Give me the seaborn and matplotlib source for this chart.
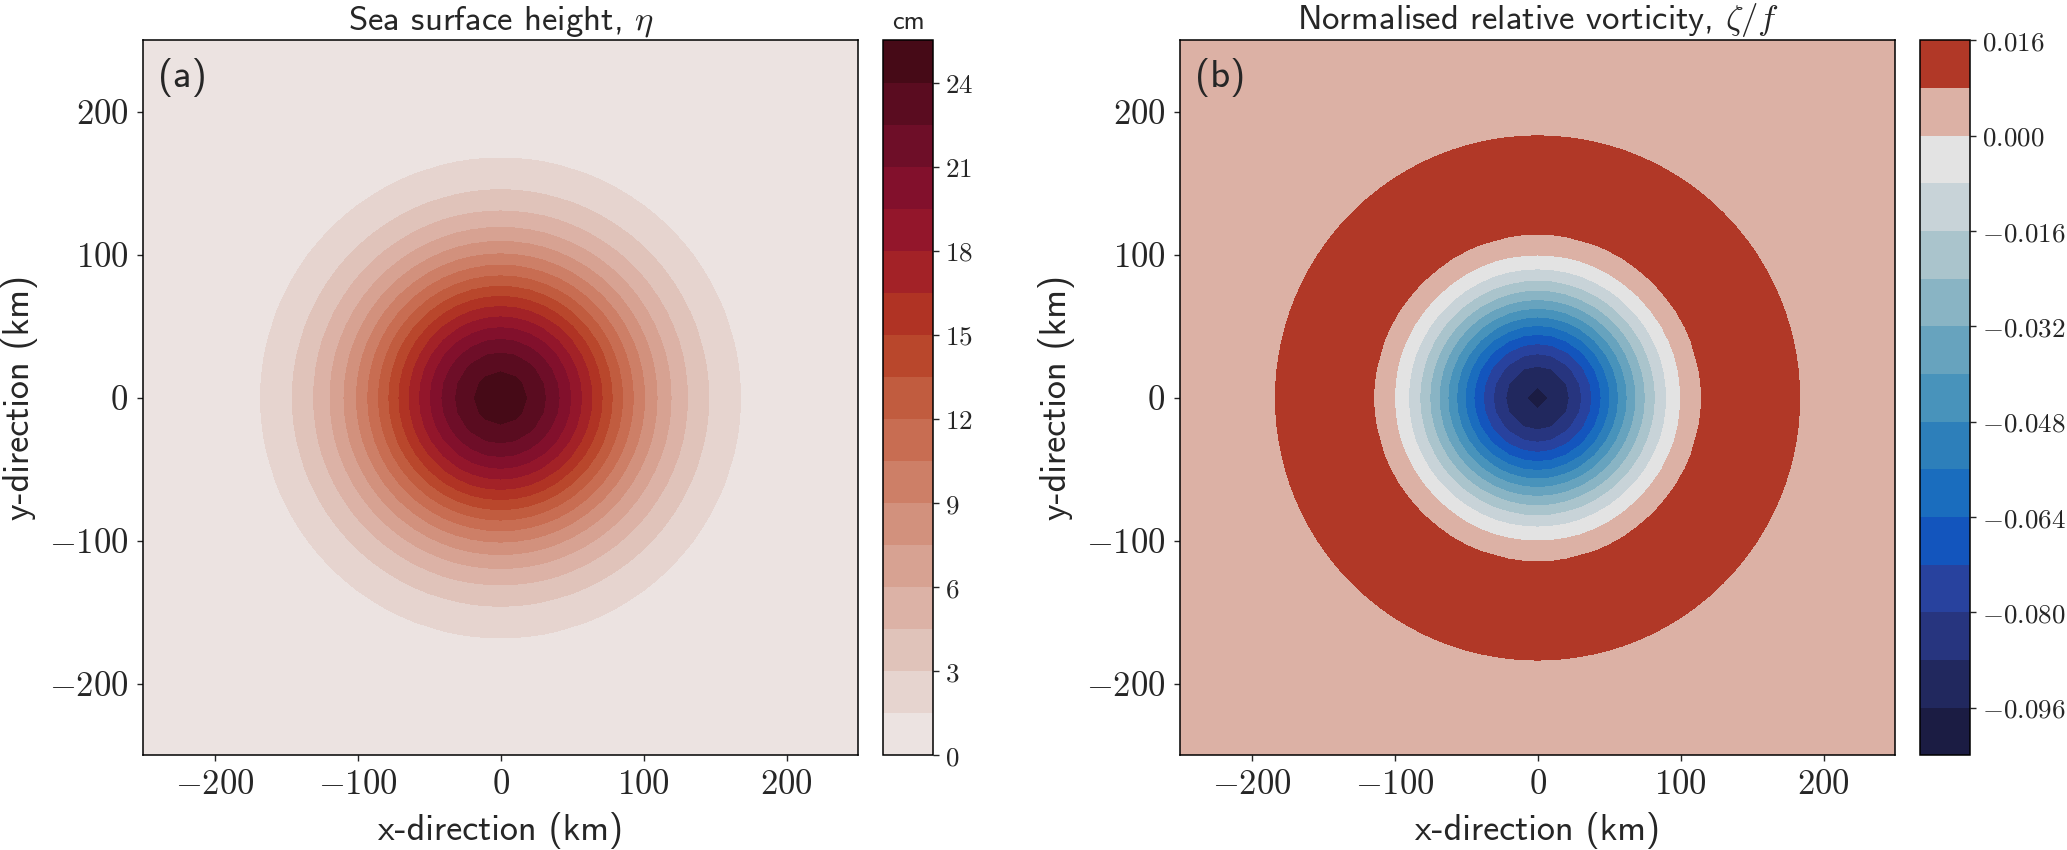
import numpy as np
import matplotlib
matplotlib.use("Agg")
import matplotlib.pyplot as plt
from matplotlib.ticker import FuncFormatter
import seaborn as sns

# Gaussian eddy parameters
AMPLITUDE_CM = 24.85
RADIUS_KM = 100.0
GRID_STEP_KM = 10.0
DOMAIN_KM = 250.0
GRAVITY = 9.81
CORIOLIS = 1.0e-4

AXIS_TICKS = [-200, -100, 0, 100, 200]

SSH_LEVELS = [0.0, 1.5, 3.0, 4.5, 6.0, 7.5, 9.0, 10.5, 12.0, 13.5, 15.0,
              16.5, 18.0, 19.5, 21.0, 22.5, 24.0, 25.5]
SSH_TICKS = [0, 3, 6, 9, 12, 15, 18, 21, 24]
SSH_COLORS = ['#ECE3E1', '#E6D4CF', '#E0C3BA', '#DCB2A6', '#D7A292', '#D2917D',
              '#CD7F67', '#C86D52', '#C15C3F', '#B9472C', '#B03324', '#A32227',
              '#93162B', '#82102C', '#6E0E28', '#5A0C20', '#460A17']

VORT_LEVELS = [-0.1015, -0.096, -0.088, -0.080, -0.072, -0.064, -0.056, -0.048,
               -0.040, -0.032, -0.024, -0.016, -0.008, 0.000, 0.008, 0.016]
VORT_TICKS = [-0.096, -0.080, -0.064, -0.048, -0.032, -0.016, 0.000, 0.016]
VORT_COLORS = ['#1B1C43', '#21285E', '#27357F', '#28429E', '#1355BD', '#1A6DBE',
               '#2D7FBA', '#4893BB', '#67A3BE', '#89B4C4', '#AAC4CC', '#C8D3D8',
               '#E3E3E3', '#DCB1A5', '#B13827']

sns.set_style("ticks")
plt.rcParams['font.family'] = ['cmss10', 'DejaVu Sans']
plt.rcParams['mathtext.fontset'] = 'cm'
plt.rcParams['axes.linewidth'] = 1.1
plt.rcParams['axes.edgecolor'] = 'black'

# field on the model grid
x = np.arange(-DOMAIN_KM, DOMAIN_KM + GRID_STEP_KM / 2, GRID_STEP_KM)
X, Y = np.meshgrid(x, x)
rr = (X**2 + Y**2) / RADIUS_KM**2
eta = AMPLITUDE_CM * np.exp(-rr)
amp_m = AMPLITUDE_CM / 100.0
rad_m = RADIUS_KM * 1e3
zeta_f = GRAVITY * amp_m / CORIOLIS**2 * 4.0 / rad_m**2 * (rr - 1.0) * np.exp(-rr)

fmt_int = FuncFormatter(lambda v, p: r'$%d$' % round(v))
fmt_vort = FuncFormatter(lambda v, p: r'$%.3f$' % (0.0 if abs(v) < 1e-9 else v))

fig = plt.figure(figsize=(20.67, 8.5), dpi=100)
ax1 = fig.add_axes([0.0692, 0.1112, 0.3459, 0.8412])
cax1 = fig.add_axes([0.4272, 0.1112, 0.0242, 0.8412])
ax2 = fig.add_axes([0.5709, 0.1112, 0.3459, 0.8412])
cax2 = fig.add_axes([0.9289, 0.1112, 0.0242, 0.8412])

cs1 = ax1.contourf(X, Y, eta, levels=SSH_LEVELS, colors=SSH_COLORS)
cs2 = ax2.contourf(X, Y, zeta_f, levels=VORT_LEVELS, colors=VORT_COLORS)

panels = [(ax1, r'Sea surface height, $\eta$', '(a)'),
          (ax2, r'Normalised relative vorticity, $\zeta/f$', '(b)')]
for ax, title, tag in panels:
    ax.set_xlim(-DOMAIN_KM, DOMAIN_KM)
    ax.set_ylim(-DOMAIN_KM, DOMAIN_KM)
    ax.set_aspect('equal')
    ax.set_xticks(AXIS_TICKS)
    ax.set_yticks(AXIS_TICKS)
    ax.xaxis.set_major_formatter(fmt_int)
    ax.yaxis.set_major_formatter(fmt_int)
    ax.tick_params(direction='out', length=4.5, width=1.0, labelsize=25, pad=6)
    ax.set_title(title, fontsize=25, pad=8)
    ax.set_xlabel('x-direction (km)', fontsize=26, labelpad=8)
    ax.set_ylabel('y-direction (km)', fontsize=26, labelpad=8)
    ax.text(0.021, 0.976, tag, transform=ax.transAxes, ha='left', va='top', fontsize=28)

cb1 = fig.colorbar(cs1, cax=cax1, ticks=SSH_TICKS)
cb1.ax.yaxis.set_major_formatter(fmt_int)
cb1.ax.set_title('cm', fontsize=19, pad=8)
cb2 = fig.colorbar(cs2, cax=cax2, ticks=VORT_TICKS)
cb2.ax.yaxis.set_major_formatter(fmt_vort)
for cb in (cb1, cb2):
    cb.outline.set_linewidth(1.1)
    cb.ax.tick_params(direction='out', length=4.5, width=1.0, labelsize=19.5, pad=4)

fig.savefig('out.png', dpi=100)
